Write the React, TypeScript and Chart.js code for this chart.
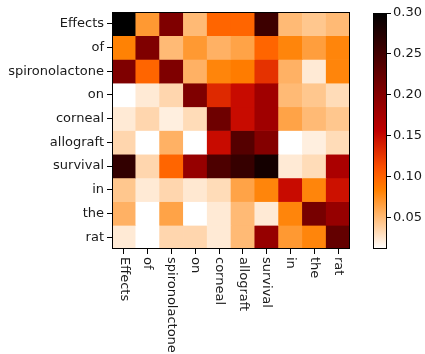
import React, { useEffect, useRef } from "react";
import { Chart, registerables } from "chart.js";

Chart.register(...registerables);

const words = ["Effects", "of", "spironolactone", "on", "corneal", "allograft", "survival", "in", "the", "rat"];

const rowEffects = [0.300, 0.069, 0.204, 0.050, 0.098, 0.098, 0.254, 0.050, 0.043, 0.050];
const rowOf = [0.082, 0.204, 0.050, 0.069, 0.055, 0.063, 0.098, 0.080, 0.066, 0.080];
const rowSpironolactone = [0.204, 0.098, 0.204, 0.055, 0.080, 0.085, 0.127, 0.055, 0.023, 0.080];
const rowOn = [0.011, 0.023, 0.034, 0.204, 0.132, 0.149, 0.179, 0.050, 0.043, 0.031];
const rowCorneal = [0.023, 0.034, 0.020, 0.031, 0.217, 0.149, 0.179, 0.063, 0.050, 0.043];
const rowAllograft = [0.034, 0.011, 0.055, 0.011, 0.149, 0.236, 0.200, 0.011, 0.020, 0.031];
const rowSurvival = [0.262, 0.034, 0.098, 0.187, 0.242, 0.259, 0.285, 0.023, 0.031, 0.171];
const rowIn = [0.043, 0.023, 0.034, 0.024, 0.031, 0.063, 0.080, 0.149, 0.080, 0.146];
const rowThe = [0.055, 0.011, 0.063, 0.011, 0.023, 0.050, 0.023, 0.080, 0.210, 0.187];
const rowRat = [0.023, 0.011, 0.034, 0.034, 0.023, 0.050, 0.187, 0.069, 0.080, 0.225];

const matrix = [rowEffects, rowOf, rowSpironolactone, rowOn, rowCorneal, rowAllograft, rowSurvival, rowIn, rowThe, rowRat];

const colorbarTicks = [0.05, 0.1, 0.15, 0.2, 0.25, 0.3];

const allVals = matrix.flat();
const vmin = Math.min(...allVals);
const vmax = Math.max(...allVals);

const FONT = "'DejaVu Sans', sans-serif";
const FONT_SIZE = 13;
const TEXT_COLOR = "#1a1a1a";

function gistHeatR(t: number): string {
  const x = 1 - Math.max(0, Math.min(1, t));
  const clip = (v: number) => Math.max(0, Math.min(1, v));
  const r = clip(1.5 * x);
  const g = clip(2 * x - 1);
  const b = clip(4 * x - 3);
  return `rgb(${Math.round(r * 255)},${Math.round(g * 255)},${Math.round(b * 255)})`;
}
const colorFor = (v: number) => gistHeatR((v - vmin) / (vmax - vmin));

const frame = {
  id: "frame",
  afterDraw(chart: any) {
    const { ctx, chartArea } = chart;
    ctx.save();
    ctx.strokeStyle = "#000";
    ctx.lineWidth = 1;
    ctx.strokeRect(
      Math.round(chartArea.left) + 0.5,
      Math.round(chartArea.top) + 0.5,
      Math.round(chartArea.right - chartArea.left) - 1,
      Math.round(chartArea.bottom - chartArea.top) - 1
    );
    ctx.restore();
  },
};

const xLabels = {
  id: "xLabels",
  afterDraw(chart: any) {
    const { ctx } = chart;
    const xs = chart.scales.x;
    ctx.save();
    ctx.fillStyle = TEXT_COLOR;
    ctx.font = `${FONT_SIZE}px ${FONT}`;
    ctx.textAlign = "left";
    ctx.textBaseline = "middle";
    words.forEach((w, i) => {
      const x = xs.getPixelForTick(i);
      ctx.save();
      ctx.translate(x, xs.top + 8);
      ctx.rotate(Math.PI / 2);
      ctx.fillText(w, 0, 0);
      ctx.restore();
    });
    ctx.restore();
  },
};

function Heatmap() {
  const ref = useRef<HTMLCanvasElement | null>(null);
  useEffect(() => {
    if (!ref.current) return;
    const chart = new Chart(ref.current, {
      type: "bar",
      data: {
        labels: words,
        datasets: matrix.map((row, r) => ({
          label: words[r],
          data: row.map(() => [r - 0.5, r + 0.5]) as any,
          backgroundColor: row.map(colorFor),
          borderWidth: 0,
          barPercentage: 1,
          categoryPercentage: 1,
          grouped: false,
        })) as any,
      },
      options: {
        animation: false,
        responsive: false,
        maintainAspectRatio: false,
        layout: { padding: { left: 0, top: 12, right: 10, bottom: 0 } },
        plugins: { legend: { display: false }, tooltip: { enabled: false } },
        scales: {
          x: {
            type: "category",
            offset: true,
            grid: { display: true, drawOnChartArea: false, drawTicks: true, tickLength: 5, color: "#000", offset: false },
            border: { display: false },
            ticks: { display: false },
            afterFit: (s: any) => { s.height = 105; },
          },
          y: {
            type: "linear",
            min: -0.5,
            max: 9.5,
            reverse: true,
            afterBuildTicks: (axis: any) => { axis.ticks = words.map((_, i) => ({ value: i })); },
            afterFit: (s: any) => { s.width = 112; },
            grid: { display: true, drawOnChartArea: false, drawTicks: true, tickLength: 5, color: "#000" },
            border: { display: false },
            ticks: {
              autoSkip: false,
              padding: 3,
              color: TEXT_COLOR,
              font: { family: FONT, size: FONT_SIZE },
              callback: (v: any) => words[v as number] ?? "",
            },
          },
        },
      },
      plugins: [frame, xLabels],
    });
    return () => chart.destroy();
  }, []);
  return (
    <canvas ref={ref} width={360} height={354} style={{ position: "absolute", left: 0, top: 0, display: "block" }} />
  );
}

function Colorbar() {
  const ref = useRef<HTMLCanvasElement | null>(null);
  useEffect(() => {
    if (!ref.current) return;
    const chart = new Chart(ref.current, {
      type: "bar",
      data: {
        labels: ["cb"],
        datasets: [
          {
            data: [[vmin, vmax]] as any,
            borderWidth: 0,
            barPercentage: 1,
            categoryPercentage: 1,
            backgroundColor: (ctx: any) => {
              const ca = ctx.chart.chartArea;
              if (!ca) return "#fff";
              const ys = ctx.chart.scales.y;
              const g = ctx.chart.ctx.createLinearGradient(0, ys.getPixelForValue(vmin), 0, ys.getPixelForValue(vmax));
              for (let i = 0; i <= 20; i++) {
                const t = i / 20;
                g.addColorStop(t, gistHeatR(t));
              }
              return g;
            },
          },
        ] as any,
      },
      options: {
        animation: false,
        responsive: false,
        maintainAspectRatio: false,
        layout: { padding: { left: 13, top: 13, right: 0, bottom: 105 } },
        plugins: { legend: { display: false }, tooltip: { enabled: false } },
        scales: {
          x: { display: false },
          y: {
            type: "linear",
            position: "right",
            min: vmin,
            max: vmax,
            afterBuildTicks: (axis: any) => { axis.ticks = colorbarTicks.map((v) => ({ value: v })); },
            afterFit: (s: any) => { s.width = 38; },
            grid: { display: true, drawOnChartArea: false, drawTicks: true, tickLength: 4, color: "#000" },
            border: { display: false },
            ticks: {
              padding: 2,
              color: TEXT_COLOR,
              font: { family: FONT, size: FONT_SIZE },
              callback: (v: any) => Number(v).toFixed(2),
            },
          },
        },
      },
      plugins: [frame],
    });
    return () => chart.destroy();
  }, []);
  return (
    <canvas ref={ref} width={65} height={354} style={{ position: "absolute", left: 360, top: 0, display: "block" }} />
  );
}

export default function App() {
  return (
    <div style={{ position: "absolute", left: 0, top: 0, width: 425, height: 354, background: "#fff" }}>
      <Heatmap />
      <Colorbar />
    </div>
  );
}
